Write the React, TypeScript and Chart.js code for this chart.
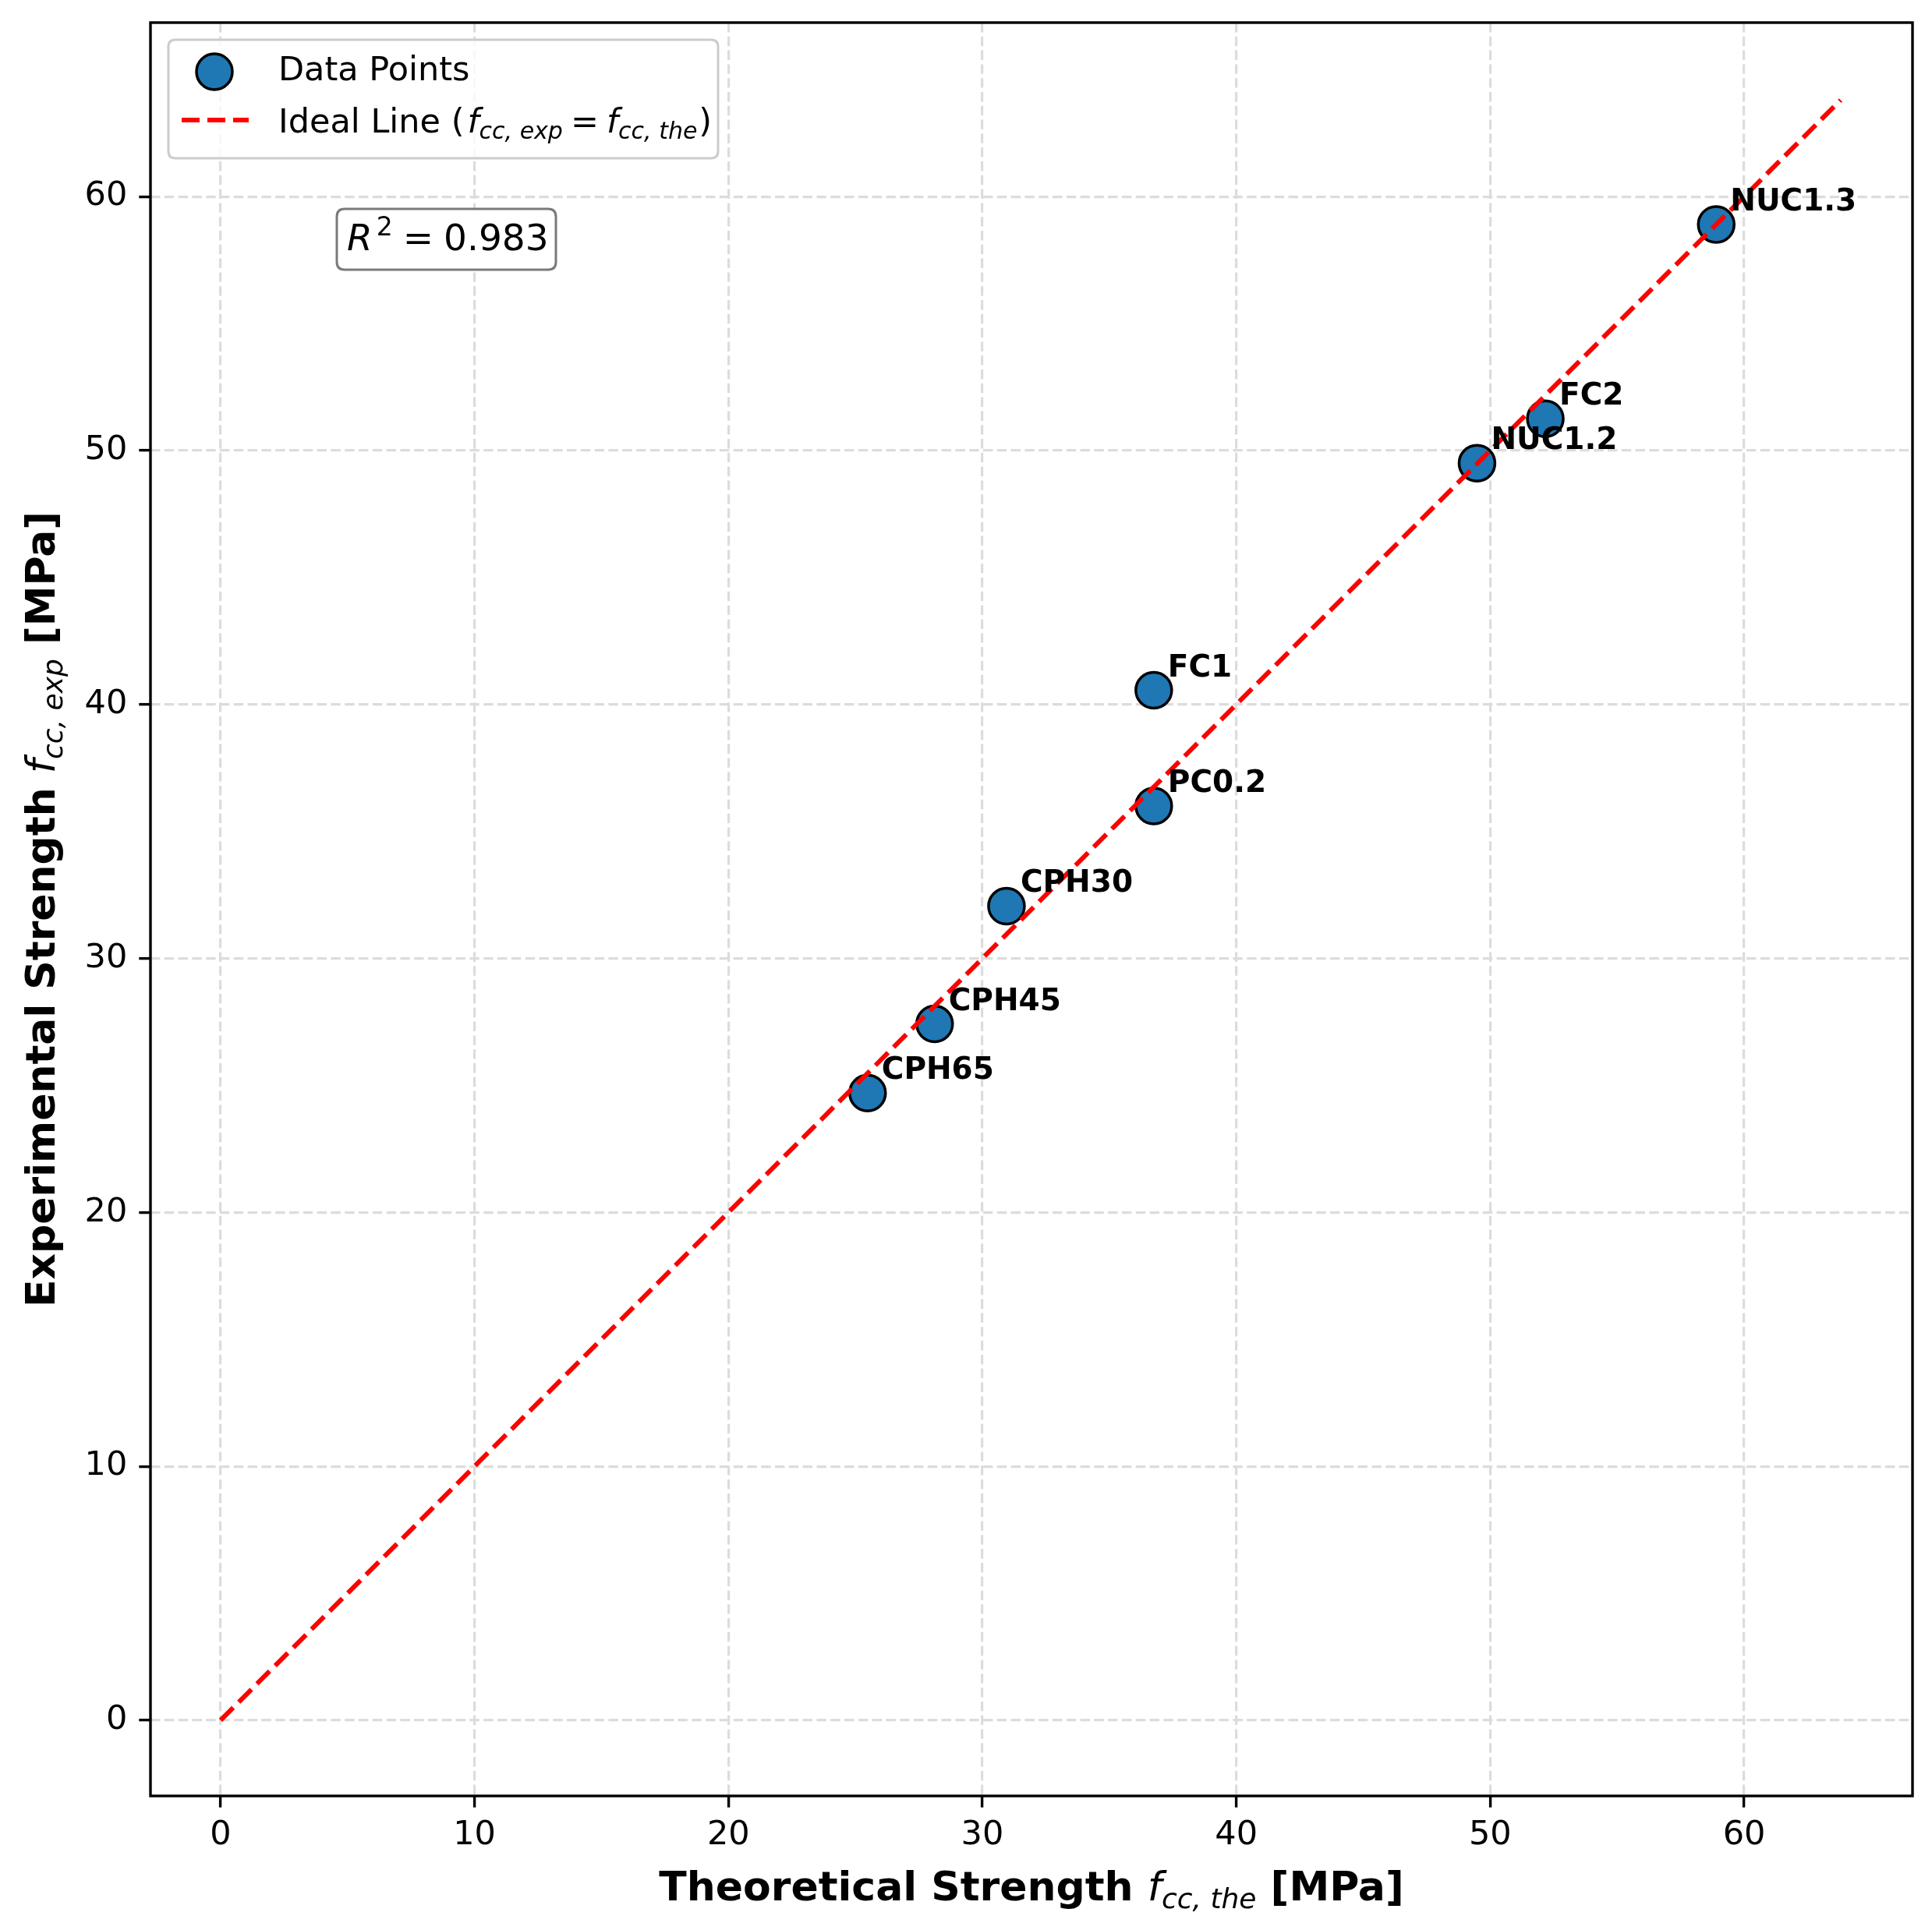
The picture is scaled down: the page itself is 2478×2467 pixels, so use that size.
import React, { useEffect, useRef } from "react";
import { Chart, registerables } from "chart.js";

Chart.register(...registerables);

// ---- data ----
const pointLabels = ["CPH65", "CPH45", "CPH30", "PC0.2", "FC1", "NUC1.2", "FC2", "NUC1.3"];
const theoretical = [25.48, 28.12, 30.95, 36.75, 36.75, 49.48, 52.17, 58.9];
const experimental = [24.7, 27.42, 32.06, 36.0, 40.56, 49.5, 51.25, 58.9];
const idealX = [0, 63.8];
const idealY = [0, 63.8];
const xTicks = [0, 10, 20, 30, 40, 50, 60];
const yTicks = [0, 10, 20, 30, 40, 50, 60];
const rSquaredText = "0.983";
const legendDataLabel = "Data Points";
const legendLinePrefix = "Ideal Line (";
const xTitleMain = "Theoretical Strength ";
const yTitleMain = "Experimental Strength ";
const unitText = " [MPa]";

const W = 2478;
const H = 2467;
const FAM = '"DejaVu Sans"';
const BLUE = "#1f77b4";
const RED = "#ff0000";

type Seg = { t: string; f: string; dy?: number; gap?: number };

function segsWidth(ctx: CanvasRenderingContext2D, segs: Seg[]) {
  let w = 0;
  for (const s of segs) {
    ctx.font = s.f;
    w += ctx.measureText(s.t).width + (s.gap || 0);
  }
  return w;
}

function drawSegs(ctx: CanvasRenderingContext2D, segs: Seg[], x: number, y: number, align: "left" | "center") {
  const w = segsWidth(ctx, segs);
  let cx = align === "center" ? x - w / 2 : x;
  ctx.textAlign = "left";
  ctx.textBaseline = "alphabetic";
  for (const s of segs) {
    ctx.font = s.f;
    ctx.fillText(s.t, cx, y + (s.dy || 0));
    cx += ctx.measureText(s.t).width + (s.gap || 0);
  }
}

function roundRect(ctx: CanvasRenderingContext2D, x: number, y: number, w: number, h: number, r: number) {
  ctx.beginPath();
  ctx.moveTo(x + r, y);
  ctx.lineTo(x + w - r, y);
  ctx.quadraticCurveTo(x + w, y, x + w, y + r);
  ctx.lineTo(x + w, y + h - r);
  ctx.quadraticCurveTo(x + w, y + h, x + w - r, y + h);
  ctx.lineTo(x + r, y + h);
  ctx.quadraticCurveTo(x, y + h, x, y + h - r);
  ctx.lineTo(x, y + r);
  ctx.quadraticCurveTo(x, y, x + r, y);
  ctx.closePath();
}

const overlay = {
  id: "overlay",
  afterDatasetsDraw(chart: any) {
    const ctx: CanvasRenderingContext2D = chart.ctx;
    const xs = chart.scales.x;
    const ys = chart.scales.y;
    ctx.save();
    ctx.fillStyle = "#000";
    ctx.font = `bold 39px ${FAM}`;
    ctx.textAlign = "left";
    ctx.textBaseline = "alphabetic";
    pointLabels.forEach((lab, i) => {
      const px = xs.getPixelForValue(theoretical[i]);
      const py = ys.getPixelForValue(experimental[i]);
      ctx.fillText(lab, px + 18, py - 18);
    });
    ctx.restore();
  },
  afterDraw(chart: any) {
    const ctx: CanvasRenderingContext2D = chart.ctx;
    const a = chart.chartArea;
    ctx.save();

    // frame
    ctx.strokeStyle = "#000";
    ctx.lineWidth = 3.4;
    ctx.setLineDash([]);
    ctx.strokeRect(a.left, a.top, a.right - a.left, a.bottom - a.top);

    // legend
    const lx = a.left + 23;
    const ly = a.top + 22;
    roundRect(ctx, lx, ly, 705, 152, 9);
    ctx.fillStyle = "rgba(255,255,255,0.8)";
    ctx.fill();
    ctx.strokeStyle = "#cccccc";
    ctx.lineWidth = 3;
    ctx.stroke();

    // legend marker
    ctx.beginPath();
    ctx.arc(lx + 59, ly + 41, 23, 0, Math.PI * 2);
    ctx.fillStyle = BLUE;
    ctx.fill();
    ctx.strokeStyle = "#000";
    ctx.lineWidth = 3.5;
    ctx.stroke();

    // legend line sample
    ctx.beginPath();
    ctx.moveTo(lx + 17, ly + 103);
    ctx.lineTo(lx + 103, ly + 103);
    ctx.strokeStyle = RED;
    ctx.lineWidth = 6;
    ctx.setLineDash([23, 10]);
    ctx.stroke();
    ctx.setLineDash([]);

    ctx.fillStyle = "#000";
    const reg43 = `43px ${FAM}`;
    const it43 = `italic 43px ${FAM}`;
    const it30 = `italic 30px ${FAM}`;
    drawSegs(ctx, [{ t: legendDataLabel, f: reg43 }], lx + 141, ly + 52, "left");
    drawSegs(
      ctx,
      [
        { t: legendLinePrefix, f: reg43, gap: 4 },
        { t: "f", f: it43 },
        { t: "cc, exp", f: it30, dy: 8, gap: 10 },
        { t: "=", f: reg43, gap: 10 },
        { t: "f", f: it43 },
        { t: "cc, the", f: it30, dy: 8, gap: 2 },
        { t: ")", f: reg43 },
      ],
      lx + 141,
      ly + 119,
      "left"
    );

    // R^2 box
    const bx = a.left + 239;
    const by = a.top + 239;
    roundRect(ctx, bx, by, 281, 78, 10);
    ctx.fillStyle = "#ffffff";
    ctx.fill();
    ctx.strokeStyle = "#7a7a7a";
    ctx.lineWidth = 3;
    ctx.stroke();
    ctx.fillStyle = "#000";
    drawSegs(
      ctx,
      [
        { t: "R", f: `italic 47px ${FAM}`, gap: 5 },
        { t: "2", f: `33px ${FAM}`, dy: -19, gap: 13 },
        { t: "=", f: `47px ${FAM}`, gap: 13 },
        { t: rSquaredText, f: `47px ${FAM}` },
      ],
      bx + 13,
      by + 53,
      "left"
    );

    // axis titles
    const b52 = `bold 52px ${FAM}`;
    const i52 = `italic 52px ${FAM}`;
    const i36 = `italic 36px ${FAM}`;
    const cx = (a.left + a.right) / 2;
    drawSegs(
      ctx,
      [
        { t: xTitleMain, f: b52 },
        { t: "f", f: i52 },
        { t: "cc, the", f: i36, dy: 10 },
        { t: unitText, f: b52 },
      ],
      cx,
      2438,
      "center"
    );
    const cy = (a.top + a.bottom) / 2;
    ctx.save();
    ctx.translate(70, cy);
    ctx.rotate(-Math.PI / 2);
    drawSegs(
      ctx,
      [
        { t: yTitleMain, f: b52 },
        { t: "f", f: i52 },
        { t: "cc, exp", f: i36, dy: 10 },
        { t: unitText, f: b52 },
      ],
      0,
      0,
      "center"
    );
    ctx.restore();

    ctx.restore();
  },
};

function axisOpts(min: number, max: number, tickVals: number[], isX: boolean) {
  return {
    type: "linear" as const,
    min,
    max,
    afterBuildTicks: (s: any) => {
      s.ticks = tickVals.map((v) => ({ value: v }));
    },
    afterFit: (s: any) => {
      if (isX) s.height = 163;
      else s.width = 193;
      s.paddingTop = 0;
      s.paddingBottom = 0;
      s.paddingLeft = 0;
      s.paddingRight = 0;
    },
    grid: {
      color: "#dcdcdc",
      lineWidth: 3.2,
      drawTicks: true,
      tickColor: "#000",
      tickWidth: 3.4,
      tickLength: 14.7,
      tickBorderDash: [],
    },
    border: { display: false, dash: [12.4, 5.4] },
    ticks: {
      color: "#000",
      font: { family: "DejaVu Sans", size: 43 },
      padding: isX ? 10 : 15,
      maxRotation: 0,
      minRotation: 0,
      autoSkip: false,
      includeBounds: false,
      callback: (v: any) => String(v),
    },
    title: { display: false },
  };
}

export default function App() {
  const ref = useRef<HTMLCanvasElement | null>(null);
  useEffect(() => {
    if (!ref.current) return;
    const chart = new Chart(ref.current, {
      type: "scatter",
      data: {
        datasets: [
          {
            type: "line",
            label: "Ideal Line",
            data: idealX.map((x, i) => ({ x, y: idealY[i] })),
            borderColor: RED,
            borderWidth: 6,
            borderDash: [23, 10],
            borderCapStyle: "butt",
            pointRadius: 0,
            pointHoverRadius: 0,
            fill: false,
            tension: 0,
            order: 0,
          } as any,
          {
            type: "scatter",
            label: "Data Points",
            data: theoretical.map((x, i) => ({ x, y: experimental[i] })),
            backgroundColor: BLUE,
            borderColor: "#000",
            borderWidth: 3.5,
            pointRadius: 23,
            pointHoverRadius: 23,
            order: 1,
          } as any,
        ],
      },
      options: {
        animation: false,
        responsive: false,
        devicePixelRatio: 1,
        events: [],
        layout: { autoPadding: false, padding: { top: 29, right: 25, left: 0, bottom: 0 } },
        plugins: { legend: { display: false }, tooltip: { enabled: false } },
        scales: {
          x: axisOpts(-2.76, 66.63, xTicks, true) as any,
          y: axisOpts(-2.98, 66.85, yTicks, false) as any,
        },
      },
      plugins: [overlay],
    });
    return () => chart.destroy();
  }, []);
  return (
    <div style={{ position: "fixed", left: 0, top: 0, width: W, height: H, background: "#fff" }}>
      <canvas ref={ref} width={W} height={H} style={{ display: "block", width: W, height: H }} />
    </div>
  );
}
